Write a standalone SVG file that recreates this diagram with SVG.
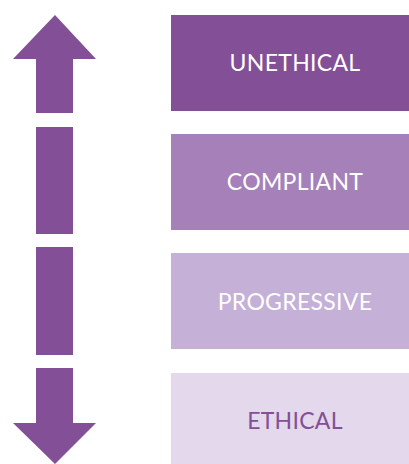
<svg xmlns="http://www.w3.org/2000/svg" width="409" height="464" viewBox="0 0 409 464">
<style>
.lbl{font-family:Lato,"Liberation Sans",sans-serif;font-size:23px;text-anchor:middle;fill:#ffffff;letter-spacing:0.3px}
.arr{fill:#834f96}
</style>
<rect width="409" height="464" fill="#ffffff"/>
<g id="arrow">
<polygon class="arr" points="55,15 96,59 73,59 73,113 36,113 36,59 13,59"/>
<rect class="arr" x="36" y="127" width="37" height="107"/>
<rect class="arr" x="36" y="247" width="37" height="108"/>
<polygon class="arr" points="36,368 73,368 73,423 96,423 55,464 13,423 36,423"/>
</g>
<g id="unethical">
<rect x="171" y="15" width="238" height="96" fill="#834f96"/>
<text class="lbl" x="295" y="71">UNETHICAL</text>
</g>
<g id="compliant">
<rect x="171" y="134" width="238" height="96" fill="#a580b9"/>
<text class="lbl" x="295" y="190">COMPLIANT</text>
</g>
<g id="progressive">
<rect x="171" y="253" width="238" height="96" fill="#c5b0d7"/>
<text class="lbl" x="295" y="310">PROGRESSIVE</text>
</g>
<g id="ethical">
<rect x="171" y="373" width="238" height="91" fill="#e3d8ec"/>
<text class="lbl" x="295" y="429" style="fill:#834f96">ETHICAL</text>
</g>
</svg>
